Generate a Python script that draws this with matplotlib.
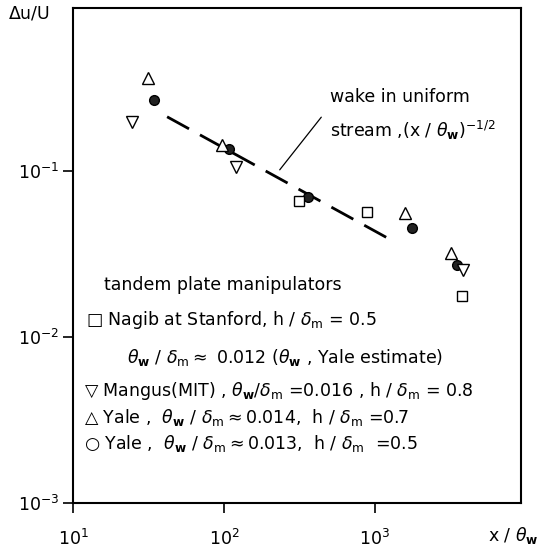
import matplotlib

matplotlib.use("Agg")
import matplotlib.pyplot as plt
import numpy as np

# wake velocity defect behind tandem plate manipulators
circ_x = [34.3, 108, 360, 1758, 3475]
circ_y = [0.268, 0.136, 0.0697, 0.0455, 0.0272]

up_x = [31.4, 96.6, 1581, 3170]
up_y = [0.363, 0.142, 0.0558, 0.0322]

down_x = [24.5, 119.5, 3811]
down_y = [0.198, 0.106, 0.0254]

sq_x = [314, 889, 3751]
sq_y = [0.0662, 0.0561, 0.0177]

# uniform-stream wake decay, C * (x/theta_w)^-1/2
wake_C = 1.37
wake_x = [42, 1337]

W, H = 542, 549
plt.rcParams["mathtext.fontset"] = "dejavusans"
plt.rcParams["font.family"] = "DejaVu Sans"

fig = plt.figure(figsize=(W / 100, H / 100), dpi=100)
ax = fig.add_axes([73 / W, 1 - 503 / H, (521 - 73) / W, (503 - 8) / H])


def px(x, y):
    """pixel position (from top-left) -> figure fraction"""
    return x / W, 1 - y / H


ax.set_xscale("log")
ax.set_yscale("log")
ax.set_xlim(10, 10 ** 3.967)
ax.set_ylim(1e-3, 10 ** -0.02)

ax.plot(circ_x, circ_y, "o", ms=7, color="black", mfc="#222222", zorder=3)
ax.plot(up_x, up_y, "^", ms=8, color="black", mfc="white", mew=1.0, zorder=3)
ax.plot(down_x, down_y, "v", ms=8, color="black", mfc="white", mew=1.0, zorder=3)
ax.plot(sq_x, sq_y, "s", ms=7.5, color="black", mfc="white", mew=1.0, zorder=3)

xs = np.array(wake_x, dtype=float)
ax.plot(xs, wake_C * xs ** -0.5, color="black", lw=2.0,
        dashes=(9, 4.5), zorder=2)

# leader from the label to the dashed line
ax.annotate("", xy=px(278, 172), xycoords="figure fraction",
            xytext=px(323, 115), textcoords="figure fraction",
            arrowprops=dict(arrowstyle="-", color="black", lw=0.9))

fs = 12.5
th = r"$\theta_{\mathbf{w}}$"
dm = r"$\delta_{\mathrm{m}}$"
fig.text(*px(330, 97), "wake in uniform", fontsize=fs, va="center")
fig.text(*px(330, 130), r"stream ,(x / " + th + r")$^{-1/2}$",
         fontsize=fs, va="center")

fig.text(*px(104, 285), "tandem plate manipulators", fontsize=fs, va="center")
fig.text(*px(86, 320), "□ Nagib at Stanford, h / " + dm + " = 0.5",
         fontsize=fs, va="center")
fig.text(*px(127, 357),
         th + " / " + dm + r"$\approx$ 0.012 (" + th + " , Yale estimate)",
         fontsize=fs, va="center")
fig.text(*px(84, 391),
         "▽ Mangus(MIT) , " + th + "/" + dm + " =0.016 , h / " + dm + " = 0.8",
         fontsize=fs, va="center")
fig.text(*px(84, 418),
         "△ Yale ,  " + th + " / " + dm + r"$\approx$0.014,  h / " + dm + " =0.7",
         fontsize=fs, va="center")
fig.text(*px(84, 444),
         "○ Yale ,  " + th + " / " + dm + r"$\approx$0.013,  h / " + dm + "  =0.5",
         fontsize=fs, va="center")

fig.text(*px(8, 13), r"$\Delta$u/U", fontsize=fs, va="center")
fig.text(*px(539, 536), "x / " + th, fontsize=fs, va="center", ha="right")

ax.set_xticks([10, 100, 1000])
ax.set_yticks([1e-3, 1e-2, 1e-1])
ax.minorticks_off()
ax.tick_params(direction="out", length=7, width=1.2, labelsize=fs)
ax.tick_params(axis="x", pad=12)
ax.tick_params(axis="y", pad=3)
for s in ax.spines.values():
    s.set_linewidth(1.5)

fig.savefig("out.png", dpi=100)
